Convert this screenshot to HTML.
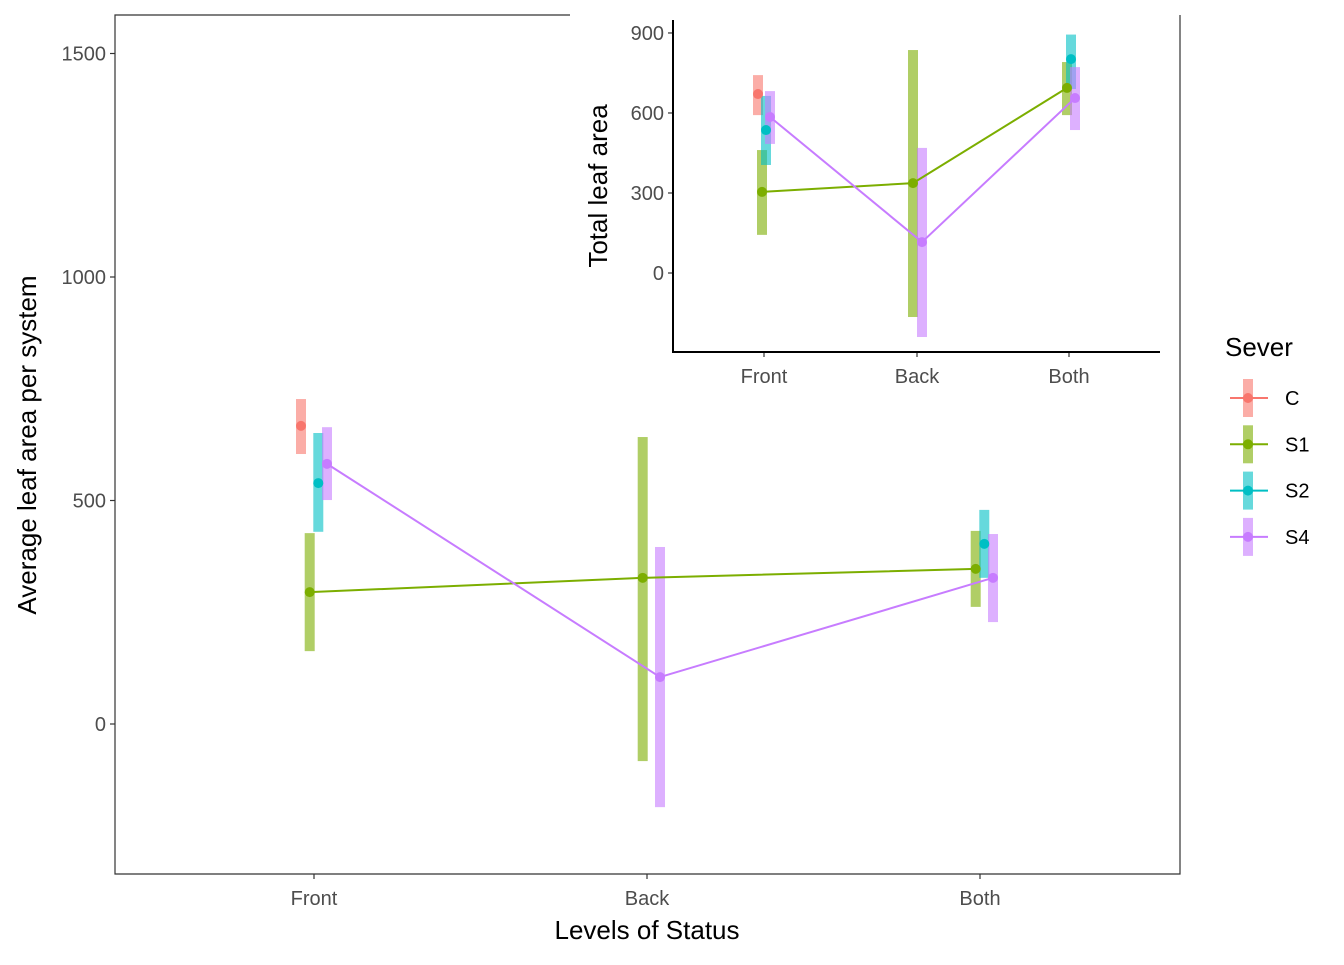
<!DOCTYPE html>
<html><head><meta charset="utf-8"><style>
body{margin:0;background:#fff;}
svg text{font-family:"Liberation Sans",Arial,sans-serif;}
</style></head><body>
<svg id="chart" width="1344" height="960" xmlns="http://www.w3.org/2000/svg"></svg>
<script>
const categories = ["Front","Back","Both"];
const groups = ["C","S1","S2","S4"];
const colors = {C:"#F8766D",S1:"#7CAE00",S2:"#00BFC4",S4:"#C77CFF"};
// main plot: [category, group, mean, upper, lower]
const mainGroupCat = [["Front","C"],["Front","S1"],["Front","S2"],["Front","S4"],["Back","S1"],["Back","S4"],["Both","S1"],["Both","S2"],["Both","S4"]];
const mainMean = [667,295,539,582,327,105,347,403,327];
const mainUpper = [727,427,651,664,642,396,432,479,425];
const mainLower = [604,163,430,501,-83,-186,262,327,228];
const mainYTicks = [0,500,1000,1500];
// inset
const insetMean = [671,304,536,585,337,116,694,802,656];
const insetUpper = [742,461,664,682,836,469,791,894,772];
const insetLower = [592,143,405,484,-165,-240,592,690,536];
const insetYTicks = [0,300,600,900];
const lineGroups = ["S1","S4"];

const svg = document.getElementById('chart');
const NS = "http://www.w3.org/2000/svg";
function mk(tag, attrs, parent){const e=document.createElementNS(NS,tag);for(const k in attrs)e.setAttribute(k,attrs[k]);(parent||svg).appendChild(e);return e;}

function drawPanel(cfg){
  const {x0,y1,yScale,xPos,dodge,mean,upper,lower,yTicks,barW,pr,prefix}=cfg;
  const g=mk('g',{});
  
  
  mainGroupCat.forEach((gc,i)=>{
    const cx=xPos(gc[0])+dodge(gc[0],gc[1]);
    const r=mk('rect',{x:cx-barW/2,y:yScale(upper[i]),width:barW,height:yScale(lower[i])-yScale(upper[i]),fill:colors[gc[1]],'fill-opacity':0.6},g);
    
    
  });
  lineGroups.forEach(lg=>{
    const pts=[];
    mainGroupCat.forEach((gc,i)=>{if(gc[1]===lg)pts.push((xPos(gc[0])+dodge(gc[0],gc[1]))+','+yScale(mean[i]));});
    const l=mk('polyline',{points:pts.join(' '),fill:'none',stroke:colors[lg],'stroke-width':2},g);
    
    
  });
  mainGroupCat.forEach((gc,i)=>{
    const c=mk('circle',{cx:xPos(gc[0])+dodge(gc[0],gc[1]),cy:yScale(mean[i]),r:pr,fill:colors[gc[1]]},g);
    
    
  });
  yTicks.forEach(t=>{
    const y=yScale(t);
    mk('line',{x1:x0-5,x2:x0,y1:y,y2:y,stroke:'#333','stroke-width':1.2},g);
    const tx=mk('text',{x:x0-9,y:y+7,'text-anchor':'end','font-size':20,fill:'#4d4d4d'},g);
    tx.textContent=t;
    
    
  });
  categories.forEach(c=>{
    const x=xPos(c);
    mk('line',{x1:x,x2:x,y1:y1,y2:y1+5,stroke:'#333','stroke-width':1.2},g);
    const tx=mk('text',{x:x,y:y1+31,'text-anchor':'middle','font-size':20,fill:'#4d4d4d'},g);
    tx.textContent=c;
    
    
  });
}

// main panel
const mY=v=>724-v*0.447;
const mX={Front:314,Back:647,Both:980};
const mSlot={C:-13,S1:-4.3,S2:4.3,S4:13};
function mDodge(cat,grp){return mSlot[grp];}
drawPanel({x0:115,y1:874,yScale:mY,xPos:c=>mX[c],dodge:mDodge,mean:mainMean,upper:mainUpper,lower:mainLower,yTicks:mainYTicks,barW:10,pr:5,prefix:'main'});
let t=mk('text',{x:647,y:939,'text-anchor':'middle','font-size':26,fill:'#000'});t.textContent='Levels of Status';

t=mk('text',{x:0,y:0,'text-anchor':'middle','font-size':26,fill:'#000',transform:'translate(36,445) rotate(-90)'});t.textContent='Average leaf area per system';


// inset background
mk('rect',{x:570,y:8,width:609,height:388,fill:'#fff'});
mk('polyline',{points:'570,15 115,15 115,874 1180,874 1180,15',fill:'none',stroke:'#333','stroke-width':1.2});
const iY=v=>273-v*0.2667;
const iX={Front:764,Back:917,Both:1069};
const iSlot={C:-6,S1:-2,S2:2,S4:6};
function iDodge(cat,grp){
  if(cat==='Back') return grp==='S1'?-4:5;
  return iSlot[grp];
}
drawPanel({x0:673,y1:352,yScale:iY,xPos:c=>iX[c],dodge:iDodge,mean:insetMean,upper:insetUpper,lower:insetLower,yTicks:insetYTicks,barW:10,pr:5,prefix:'inset'});
mk('polyline',{points:'673,20 673,352 1160,352',fill:'none',stroke:'#000','stroke-width':2});
t=mk('text',{x:0,y:0,'text-anchor':'middle','font-size':26,fill:'#000',transform:'translate(607,186) rotate(-90)'});t.textContent='Total leaf area';


// legend
t=mk('text',{x:1225,y:356,'font-size':26,fill:'#000'});t.textContent='Sever';

groups.forEach((gname,i)=>{
  const y=398+i*46.3;
  const g=mk('g',{});
  
  
  mk('rect',{x:1243,y:y-19,width:10,height:38,fill:colors[gname],'fill-opacity':0.6},g);
  mk('line',{x1:1230,x2:1268,y1:y,y2:y,stroke:colors[gname],'stroke-width':2},g);
  mk('circle',{cx:1248,cy:y,r:5,fill:colors[gname]},g);
  const tx=mk('text',{x:1285,y:y+7,'font-size':20,fill:'#000'},g);tx.textContent=gname;
});
</script>
</body></html>
